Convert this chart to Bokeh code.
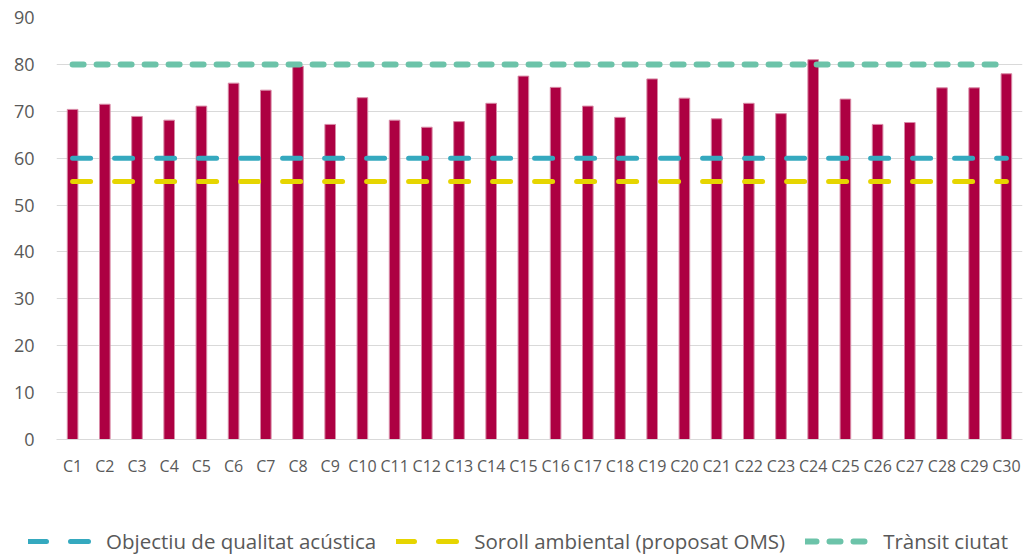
from bokeh.plotting import figure
from bokeh.models import Range1d, FactorRange, FixedTicker, Legend
from bokeh.layouts import column
from bokeh.embed import file_html
from bokeh.resources import INLINE

categories = ["C1", "C2", "C3", "C4", "C5", "C6", "C7", "C8", "C9", "C10",
              "C11", "C12", "C13", "C14", "C15", "C16", "C17", "C18", "C19", "C20",
              "C21", "C22", "C23", "C24", "C25", "C26", "C27", "C28", "C29", "C30"]
nivell = [70.4, 71.5, 68.9, 68.1, 71.1, 76.0, 74.5, 79.6, 67.2, 72.9,
          68.1, 66.6, 67.8, 71.7, 77.5, 75.1, 71.1, 68.7, 76.9, 72.8,
          68.4, 71.7, 69.5, 81.0, 72.6, 67.2, 67.6, 75.0, 75.0, 78.0]
objectiu_level = 60
soroll_level = 55
transit_level = 80
y_ticks = [0, 10, 20, 30, 40, 50, 60, 70, 80, 90]

label_objectiu = "Objectiu de qualitat acústica"
label_soroll = "Soroll ambiental (proposat OMS)"
label_transit = "Trànsit ciutat"

FONT = "Open Sans"
GRAY = "#595959"
C_OBJ, C_SOR, C_TRA = "#35A9BF", "#E6D500", "#6CC3A9"
DASH_A, DASH_B = "18 24", "11 13"

p = figure(x_range=FactorRange(*categories), y_range=Range1d(0, 90),
           width=1024, height=500, output_backend="svg", toolbar_location=None,
           min_border_left=56, min_border_right=2, min_border_top=17, min_border_bottom=61)
p.outline_line_color = None

p.vbar(x=categories, top=nivell, width=0.33, fill_color="#AD0042",
       line_color="#D88AA6", line_width=1)

p.line(x=categories, y=[objectiu_level] * len(categories), line_color=C_OBJ,
       line_width=5, line_dash=DASH_A, line_cap="round")
p.line(x=categories, y=[soroll_level] * len(categories), line_color=C_SOR,
       line_width=5, line_dash=DASH_A, line_cap="round")
p.line(x=categories, y=[transit_level] * len(categories), line_color=C_TRA,
       line_width=6, line_dash=DASH_B, line_cap="round")

p.xgrid.grid_line_color = None
p.ygrid.grid_line_color = "#D9D9D9"
p.ygrid.grid_line_width = 1.2

p.yaxis.ticker = FixedTicker(ticks=y_ticks)
p.yaxis.axis_line_color = None
p.yaxis.major_tick_line_color = None
p.yaxis.minor_tick_line_color = None
p.yaxis.major_tick_out = 0
p.yaxis.major_label_standoff = 22
p.yaxis.major_label_text_font = FONT
p.yaxis.major_label_text_font_size = "18px"
p.yaxis.major_label_text_color = GRAY

p.xaxis.axis_line_color = "#D9D9D9"
p.xaxis.axis_line_width = 1.2
p.xaxis.major_tick_line_color = None
p.xaxis.major_tick_out = 0
p.xaxis.major_label_standoff = 15
p.xaxis.major_label_text_font = FONT
p.xaxis.major_label_text_font_size = "16px"
p.xaxis.major_label_text_color = GRAY

# legend strip below the chart (renderers hold one point outside the visible range)
q = figure(width=1024, height=56, output_backend="svg", toolbar_location=None,
           x_range=Range1d(0, 1), y_range=Range1d(0, 1),
           x_axis_type=None, y_axis_type=None,
           min_border_left=0, min_border_right=0, min_border_top=0, min_border_bottom=0)
q.outline_line_color = None
q.grid.grid_line_color = None
l_obj = q.line(x=[-5], y=[-5], line_color=C_OBJ, line_width=5, line_dash=DASH_A, line_cap="round")
l_sor = q.line(x=[-5], y=[-5], line_color=C_SOR, line_width=5, line_dash=DASH_A, line_cap="round")
l_tra = q.line(x=[-5], y=[-5], line_color=C_TRA, line_width=6, line_dash=DASH_B, line_cap="round")

if "frame_align" in q.properties():
    p.frame_align = False
    q.frame_align = False
    legend_loc = (28, 1)
else:
    legend_loc = (-28, 1)

legend = Legend(items=[(label_objectiu, [l_obj]), (label_soroll, [l_sor]), (label_transit, [l_tra])],
                orientation="horizontal", location=legend_loc,
                glyph_width=65, glyph_height=20, label_height=20, label_standoff=13,
                spacing=20, padding=0, margin=0,
                label_text_font=FONT, label_text_font_size="20.5px", label_text_color=GRAY,
                border_line_color=None, background_fill_alpha=0)
q.add_layout(legend, "center")

layout = column(p, q, spacing=0)
open("out.html", "w").write(file_html(layout, INLINE))
